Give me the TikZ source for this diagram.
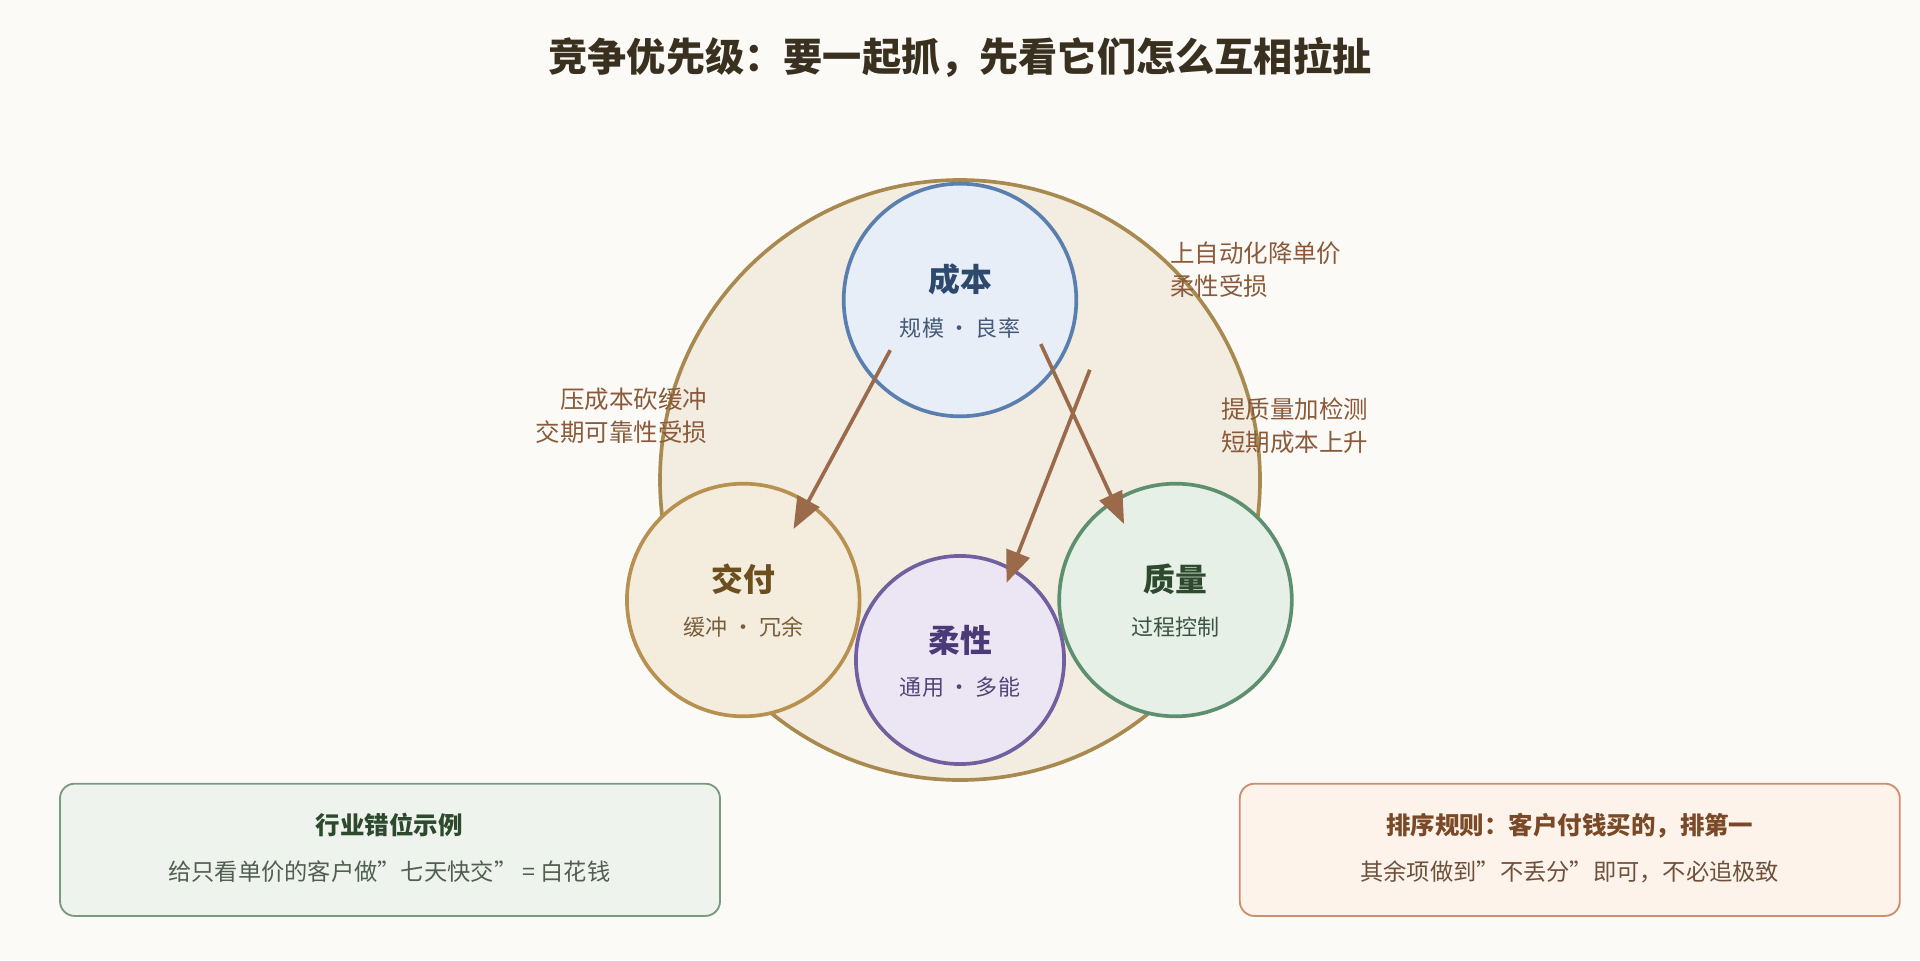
\documentclass[tikz,border=0pt]{standalone}
\usepackage{fontspec}
\setmainfont{Noto Sans CJK SC}
\usetikzlibrary{arrows.meta}
\definecolor{bg}{HTML}{FCFAF6}
\definecolor{arr}{HTML}{9A6A4A}
\definecolor{lbl}{HTML}{8A5A3A}
\definecolor{bigD}{RGB}{168,138,80}\definecolor{bigF}{RGB}{243,236,224}
\definecolor{costD}{RGB}{90,127,174}\definecolor{costF}{RGB}{232,238,248}
\definecolor{costT}{RGB}{45,74,110}\definecolor{costS}{RGB}{70,90,120}
\definecolor{delD}{RGB}{184,144,80}\definecolor{delF}{RGB}{244,236,220}
\definecolor{delT}{RGB}{107,79,30}\definecolor{delS}{RGB}{120,95,60}
\definecolor{qualD}{RGB}{94,144,112}\definecolor{qualF}{RGB}{230,240,230}
\definecolor{qualT}{RGB}{46,74,46}\definecolor{qualS}{RGB}{60,85,65}
\definecolor{flexD}{RGB}{112,96,160}\definecolor{flexF}{RGB}{236,230,244}
\definecolor{flexT}{RGB}{74,58,120}\definecolor{flexS}{RGB}{80,70,120}
\definecolor{blD}{RGB}{122,154,128}\definecolor{blF}{RGB}{238,243,238}
\definecolor{blS}{RGB}{80,95,80}
\definecolor{brD}{RGB}{200,144,112}\definecolor{brF}{RGB}{253,243,234}
\definecolor{brT}{RGB}{122,74,40}\definecolor{brS}{RGB}{110,80,60}
\definecolor{titleC}{RGB}{58,48,32}
\begin{document}
\begin{tikzpicture}[x=1pt,y=-1pt,
  circ/.style={circle,line width=3pt,inner sep=0pt,minimum size=#1},
  ttl/.style={font=\bfseries\fontsize{26}{30}\selectfont,text=#1},
  sub/.style={font=\fontsize{18}{22}\selectfont,text=#1},
  lab/.style={font=\fontsize{20}{27}\selectfont,text=lbl,align=left},
  con/.style={draw=arr,line width=3pt,-{Triangle[length=26pt,width=20pt]}},
  box/.style={rounded corners=12pt,line width=1.5pt,minimum width=539pt,minimum height=108pt}]
\fill[bg] (0,0) rectangle (1568,784);
\useasboundingbox (0,0) rectangle (1568,784);
\node[font=\bfseries\fontsize{32}{38}\selectfont,text=titleC] (title) at (784,47) {竞争优先级：要一起抓，先看它们怎么互相拉扯};
\node[circ=490pt,draw=bigD,fill=bigF] (big) at (784,392) {};
\node[circ=190pt,draw=costD,fill=costF] (cost) at (784,245) {};
\node[circ=190pt,draw=delD,fill=delF] (del) at (607,490) {};
\node[circ=190pt,draw=qualD,fill=qualF] (qual) at (960,490) {};
\node[circ=170pt,draw=flexD,fill=flexF] (flex) at (784,539) {};
\node[ttl=costT] (costt) at (784,228) {成本};
\node[sub=costS] (costs) at (784,268) {规模 · 良率};
\node[ttl=delT] (delt) at (607,473) {交付};
\node[sub=delS] (dels) at (607,512) {缓冲 · 冗余};
\node[ttl=qualT] (qualt) at (960,473) {质量};
\node[sub=qualS] (quals) at (960,512) {过程控制};
\node[ttl=flexT] (flext) at (784,523) {柔性};
\node[sub=flexS] (flexs) at (784,561) {通用 · 多能};
\coordinate (a1) at (727,286); \coordinate (b1) at (648,432);
\coordinate (a2) at (850,281); \coordinate (b2) at (918,428);
\coordinate (a3) at (890,302); \coordinate (b3) at (822,476);
\draw[con] (a1) -- (b1);
\draw[con] (a2) -- (b2);
\draw[con] (a3) -- (b3);
\node[lab,anchor=north west] (l1) at (952,194) {上自动化降单价\\柔性受损};
\node[lab,anchor=north west] (l2) at (994,321) {提质量加检测\\短期成本上升};
\node[lab,anchor=north east,align=right] (l3) at (581,313) {压成本砍缓冲\\交期可靠性受损};
\node[box,draw=blD,fill=blF] (bl) at (318.5,694) {};
\node[font=\bfseries\fontsize{20}{24}\selectfont,text=qualT] (blt) at (318,674) {行业错位示例};
\node[font=\fontsize{19}{24}\selectfont,text=blS] (bls) at (318,712) {给只看单价的客户做"七天快交" = 白花钱};
\node[box,draw=brD,fill=brF] (br) at (1282,694) {};
\node[font=\bfseries\fontsize{20}{24}\selectfont,text=brT] (brt) at (1282,674) {排序规则：客户付钱买的，排第一};
\node[font=\fontsize{19}{24}\selectfont,text=brS] (brs) at (1282,712) {其余项做到"不丢分"即可，不必追极致};
\end{tikzpicture}
\end{document}
